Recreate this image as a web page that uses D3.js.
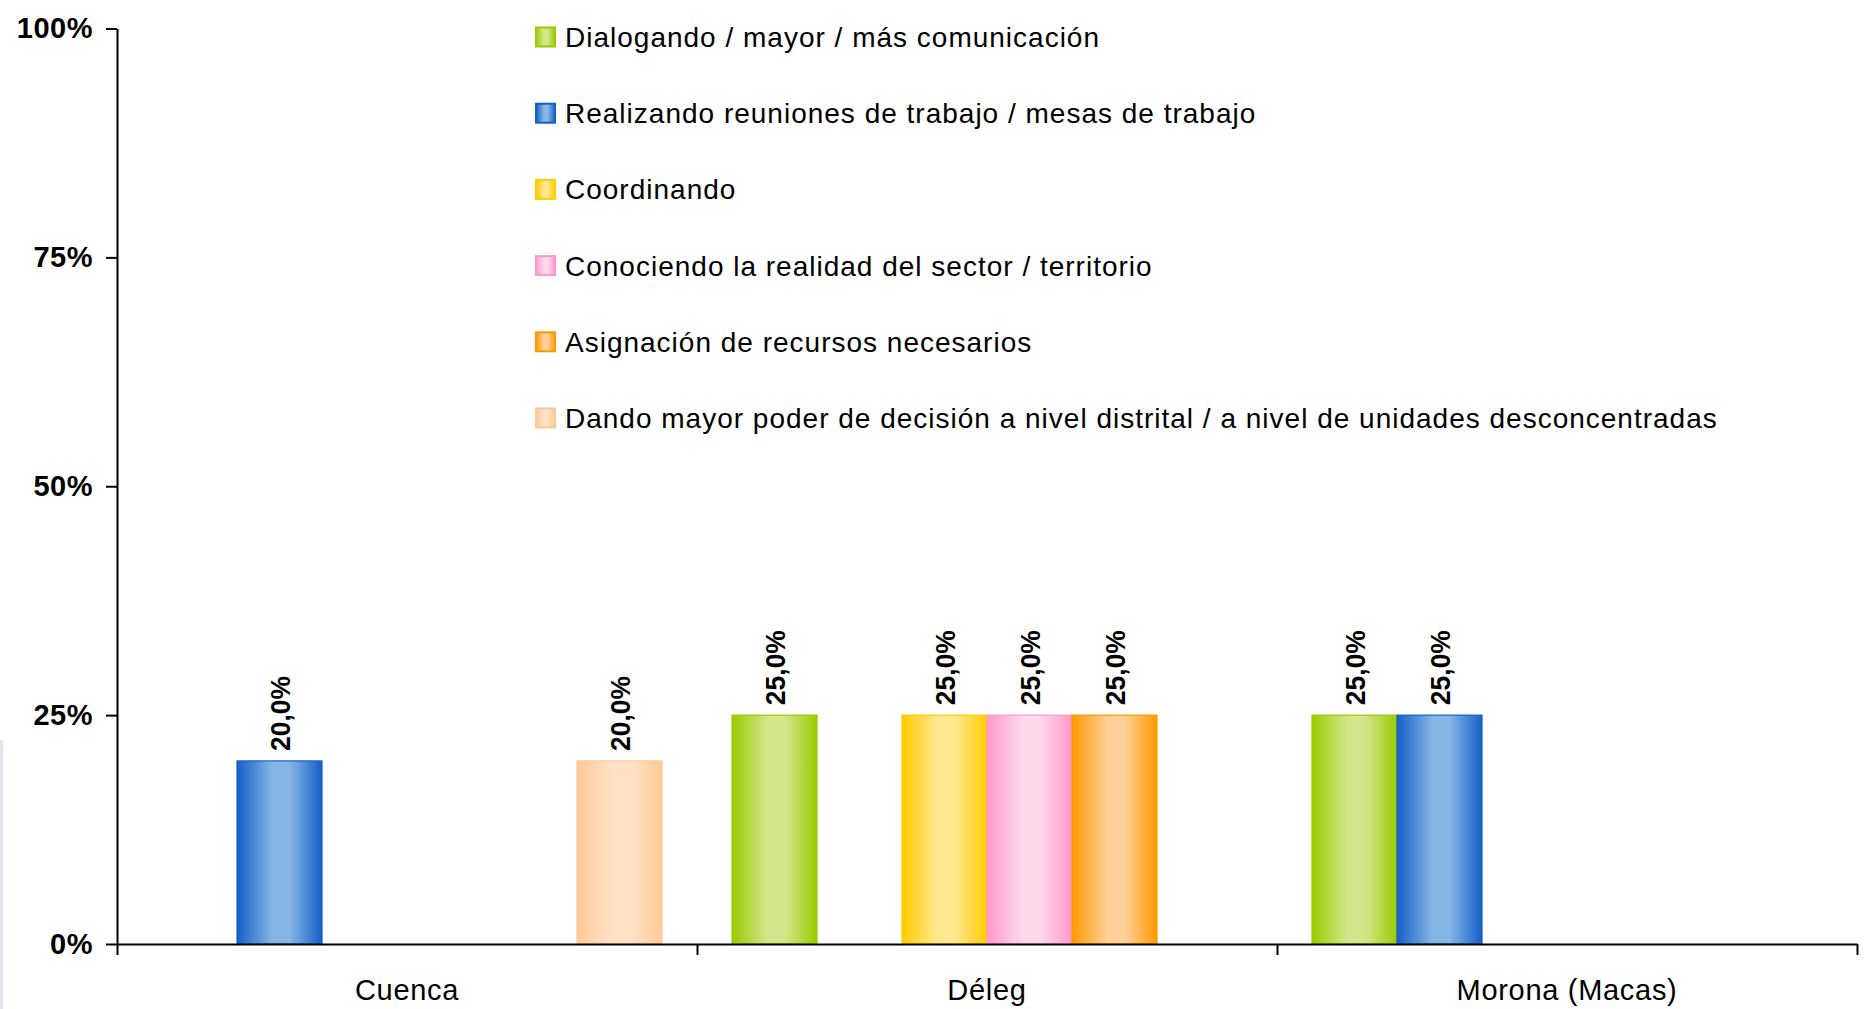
<!DOCTYPE html>
<html>
<head>
<meta charset="utf-8">
<script src="https://cdn.jsdelivr.net/npm/d3@7"></script>
<style>
  html, body { margin: 0; padding: 0; background: #fff; }
  svg { display: block; font-family: "Liberation Sans", Arial, Helvetica, sans-serif; }
</style>
</head>
<body>
<svg id="chart" width="1866" height="1009"></svg>
<script>
// ---- data ----
const categories = ["Cuenca", "Déleg", "Morona (Macas)"];
const seriesNames = [
  "Dialogando / mayor / más comunicación",
  "Realizando reuniones de trabajo / mesas de trabajo",
  "Coordinando",
  "Conociendo la realidad del sector / territorio",
  "Asignación de recursos necesarios",
  "Dando mayor poder de decisión a nivel distrital / a nivel de unidades desconcentradas"
];
const dialogando  = [0, 25, 25];
const realizando  = [20, 0, 25];
const coordinando = [0, 25, 0];
const conociendo  = [0, 25, 0];
const asignacion  = [0, 25, 0];
const dando       = [20, 0, 0];
const seriesValues = [dialogando, realizando, coordinando, conociendo, asignacion, dando];
const yTickValues = [0, 25, 50, 75, 100];
const yTickLabels = ["0%", "25%", "50%", "75%", "100%"];

// colours: [edge, light centre]
const edgeColors  = ["#99cc00", "#1560c8", "#ffcc00", "#ff99cc", "#ff9900", "#ffc896"];
const lightColors = ["#d3e68c", "#86b6e6", "#ffe890", "#ffd8ec", "#ffd099", "#ffe2c6"];

// ---- layout ----
const svg = d3.select("#chart");
const plotLeft = 117, plotRight = 1857, plotBase = 944, plotTop = 28.5;

const x0 = d3.scaleBand().domain(categories).range([plotLeft, plotRight]).padding(0);
const x1 = d3.scaleBand().domain(seriesNames.map((d, i) => i)).range([35, x0.bandwidth() - 35]).padding(0);
const y = d3.scaleLinear().domain([0, 100]).range([plotBase, plotTop]);

// gradients
const defs = svg.append("defs");
seriesNames.forEach((s, i) => {
  const g = defs.append("linearGradient").attr("id", "g" + i)
    .attr("x1", "0%").attr("x2", "100%").attr("y1", "0%").attr("y2", "0%");
  g.append("stop").attr("offset", "0%").attr("stop-color", edgeColors[i]);
  g.append("stop").attr("offset", "42%").attr("stop-color", lightColors[i]);
  g.append("stop").attr("offset", "62%").attr("stop-color", lightColors[i]);
  g.append("stop").attr("offset", "100%").attr("stop-color", edgeColors[i]);
});

// faint left edge strip
svg.append("rect").attr("x", 0).attr("y", 740).attr("width", 3).attr("height", 269)
  .attr("fill", "#e2e5ee");

// bars
const flat = [];
categories.forEach((c, ci) => {
  seriesValues.forEach((vals, si) => {
    if (vals[ci] > 0) flat.push({ c, si, v: vals[ci] });
  });
});

const barG = svg.append("g");
barG.selectAll("rect").data(flat).enter().append("rect")
  .attr("x", d => x0(d.c) + x1(d.si))
  .attr("y", d => y(d.v))
  .attr("width", x1.bandwidth())
  .attr("height", d => plotBase - y(d.v))
  .attr("fill", d => "url(#g" + d.si + ")")
  .attr("stroke", d => edgeColors[d.si])
  .attr("stroke-width", 1.2);

// data labels
barG.selectAll("text").data(flat).enter().append("text")
  .attr("transform", d => {
    const cx = x0(d.c) + x1(d.si) + x1.bandwidth() / 2;
    return `translate(${cx + 10},${y(d.v) - 10}) rotate(-90)`;
  })
  .attr("font-size", 27).attr("font-weight", "bold").attr("fill", "#000")
  .attr("textLength", 75).attr("lengthAdjust", "spacingAndGlyphs")
  .text(d => d.v.toFixed(1).replace(".", ",") + "%");

// y axis
const yAxis = d3.axisLeft(y).tickValues(yTickValues)
  .tickFormat((d, i) => yTickLabels[i]).tickSize(11).tickSizeOuter(0).tickPadding(13);
const yg = svg.append("g").attr("transform", `translate(${plotLeft},0)`).call(yAxis);
yg.select(".domain").attr("stroke", "#000").attr("stroke-width", 2);
yg.selectAll(".tick line").attr("stroke", "#000").attr("stroke-width", 2);
yg.selectAll(".tick text").attr("font-size", 29).attr("font-weight", "bold")
  .attr("letter-spacing", "0.5px")
  .attr("fill", "#000").attr("font-family", "'Liberation Sans', Arial, sans-serif");

// x axis: boundary ticks
const xb = d3.scaleLinear().domain([0, categories.length]).range([plotLeft, plotRight]);
const xbAxis = d3.axisBottom(xb).tickValues(d3.range(categories.length + 1))
  .tickSize(11).tickSizeOuter(0).tickFormat("");
const xbg = svg.append("g").attr("transform", `translate(0,${plotBase})`).call(xbAxis);
xbg.select(".domain").attr("stroke", "#000").attr("stroke-width", 2);
xbg.selectAll(".tick line").attr("stroke", "#000").attr("stroke-width", 2);

// x axis: category labels
const xAxis = d3.axisBottom(x0).tickSize(0).tickSizeOuter(0);
const xg = svg.append("g").attr("transform", `translate(0,${plotBase})`).call(xAxis);
xg.select(".domain").remove();
xg.selectAll(".tick text").attr("y", 56).attr("dy", null)
  .attr("font-size", 29).attr("letter-spacing", "0.7px").attr("fill", "#000")
  .attr("font-family", "'Liberation Sans', Arial, sans-serif");

// legend
const legend = svg.append("g");
const lg = legend.selectAll("g").data(seriesNames).enter().append("g")
  .attr("transform", (d, i) => `translate(536,${37 + i * 76.2})`);
lg.append("rect").attr("x", 0).attr("y", -9.5).attr("width", 19).attr("height", 19)
  .attr("fill", (d, i) => "url(#g" + i + ")")
  .attr("stroke", (d, i) => edgeColors[i]).attr("stroke-width", 2);
lg.append("text").attr("x", 29).attr("y", 0).attr("dy", "0.36em")
  .attr("font-size", 28).attr("letter-spacing", "1px").attr("fill", "#000")
  .text(d => d);
</script>
</body>
</html>
